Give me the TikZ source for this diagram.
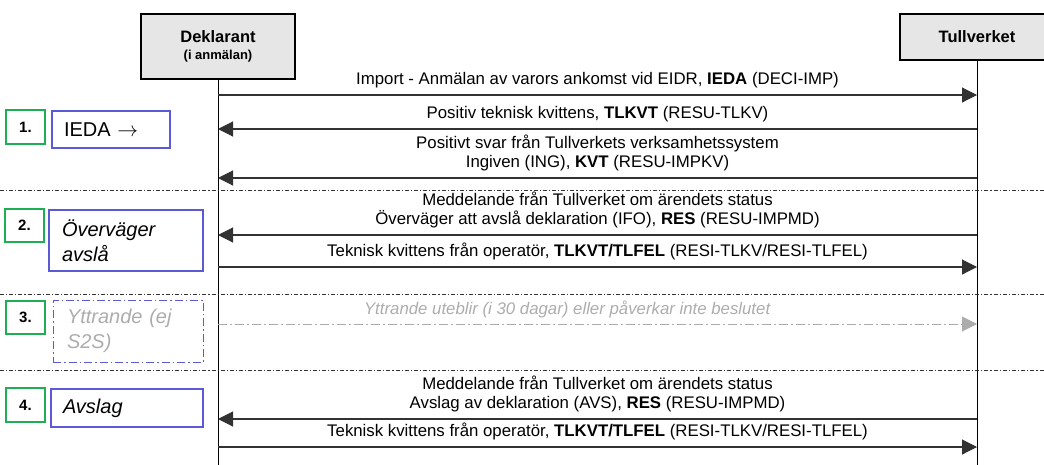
\documentclass[tikz,border=0pt]{standalone}
\usepackage{fontspec}
\setmainfont{Liberation Sans}
\usepackage{tikz}
\usetikzlibrary{arrows.meta,positioning}

\definecolor{headgray}{RGB}{230,230,230}
\definecolor{linegray}{RGB}{50,50,50}
\definecolor{fadegray}{RGB}{172,172,172}
\definecolor{stepgreen}{RGB}{30,175,85}
\definecolor{stepblue}{RGB}{90,90,215}

\begin{document}
\begin{tikzpicture}[
        x=1pt, y=-1pt,
        font=\fontsize{16.8}{19}\selectfont,
        actor/.style={draw, line width=1.8pt, fill=headgray, align=center, minimum width=154pt, inner sep=0pt, font=\bfseries\fontsize{16.5}{18}\selectfont},
        life/.style={line width=1pt},
        msg/.style={-{Triangle[length=15pt,width=15pt]}, line width=1.1pt, draw=linegray},
        fademsg/.style={-{Triangle[length=15pt,width=15pt]}, line width=1pt, draw=fadegray, dash pattern=on 9pt off 3pt on 2pt off 3pt},
        lbl/.style={midway, above=6pt, align=center, inner sep=0pt},
        sep/.style={line width=0.9pt, draw=linegray, dash pattern=on 4pt off 2pt on 1.2pt off 2pt},
        num/.style={draw=stepgreen, line width=1.5pt, minimum width=39pt, inner sep=0pt, font=\bfseries\fontsize{15}{16}\selectfont},
        stepbox/.style={draw=stepblue, line width=1.1pt, align=left, inner ysep=0pt, font=\fontsize{20}{25}\selectfont}
    ]
        \useasboundingbox (0,0) rectangle (1044,464);

        % lifelines
        \node[actor, minimum height=65pt] (dek) at (218,46.5) {\raisebox{-2pt}{Deklarant}\\[1pt]{\fontsize{13}{15}\selectfont (i anmälan)}};
        \node[actor, minimum height=46pt] (tull) at (977,37) {Tullverket};
        \coordinate (dekend) at (218,470);
        \coordinate (tullend) at (977,470);
        \draw[life] (dek.south) -- (dekend);
        \draw[life] (tull.south) -- (tullend);

        \coordinate (d1) at (218,95);  \coordinate (t1) at (977,95);
        \coordinate (d2) at (218,129); \coordinate (t2) at (977,129);
        \coordinate (d3) at (218,178); \coordinate (t3) at (977,178);
        \coordinate (d4) at (218,235); \coordinate (t4) at (977,235);
        \coordinate (d5) at (218,267); \coordinate (t5) at (977,267);
        \coordinate (d6) at (218,324); \coordinate (t6) at (977,324);
        \coordinate (d7) at (218,419); \coordinate (t7) at (977,419);
        \coordinate (d8) at (218,447); \coordinate (t8) at (977,447);

        % separators
        \draw[sep] (0,190) -- (1044,190);
        \draw[sep] (0,294) -- (1044,294);
        \draw[sep] (0,370) -- (1044,370);

        % 1.
        \draw[msg] (d1) -- (t1) node[lbl] (l1) {Import - Anmälan av varors ankomst vid EIDR, \textbf{IEDA} (DECI-IMP)};
        \draw[msg] (t2) -- (d2) node[lbl] (l2) {Positiv teknisk kvittens, \textbf{TLKVT} (RESU-TLKV)};
        \draw[msg] (t3) -- (d3) node[lbl] (l3) {Positivt svar från Tullverkets verksamhetssystem\\Ingiven (ING), \textbf{KVT} (RESU-IMPKV)};
        \node[num, minimum height=34pt] (n1) at (25.5,127) {1.};
        \node[stepbox, text width=94pt, inner xsep=12pt, minimum height=37pt] (s1) at (111,129.5) {IEDA $\rightarrow$};

        % 2.
        \draw[msg] (t4) -- (d4) node[lbl] (l4) {Meddelande från Tullverket om ärendets status\\Överväger att avslå deklaration (IFO), \textbf{RES} (RESU-IMPMD)};
        \draw[msg] (d5) -- (t5) node[lbl] (l5) {Teknisk kvittens från operatör, \textbf{TLKVT/TLFEL} (RESI-TLKV/RESI-TLFEL)};
        \node[num, minimum height=33pt] (n2) at (24.5,225.5) {2.};
        \node[stepbox, text width=128pt, inner xsep=13pt, minimum height=61pt] (s2) at (126,240.5) {\itshape Överväger\\\itshape avslå};

        % 3.
        \draw[fademsg] (d6) -- (t6) node[lbl, pos=0.46, text=fadegray] (l6) {\itshape Yttrande uteblir (i 30 dagar) eller påverkar inte beslutet};
        \node[num, minimum height=33pt] (n3) at (25.5,317.5) {3.};
        \node[stepbox, line width=0.9pt, dash pattern=on 8pt off 3pt on 1.5pt off 3pt, text=fadegray, text width=122pt, inner xsep=14pt, minimum height=62pt] (s3) at (128,331) {\itshape Yttrande (ej\\\itshape S2S)};

        % 4.
        \draw[msg] (t7) -- (d7) node[lbl] (l7) {Meddelande från Tullverket om ärendets status\\Avslag av deklaration (AVS), \textbf{RES} (RESU-IMPMD)};
        \draw[msg] (d8) -- (t8) node[lbl] (l8) {Teknisk kvittens från operatör, \textbf{TLKVT/TLFEL} (RESI-TLKV/RESI-TLFEL)};
        \node[num, minimum height=34pt] (n4) at (25.5,405) {4.};
        \node[stepbox, text width=128pt, inner xsep=12pt, minimum height=38pt] (s4) at (127,408) {\itshape Avslag};
    \end{tikzpicture}
\end{document}
